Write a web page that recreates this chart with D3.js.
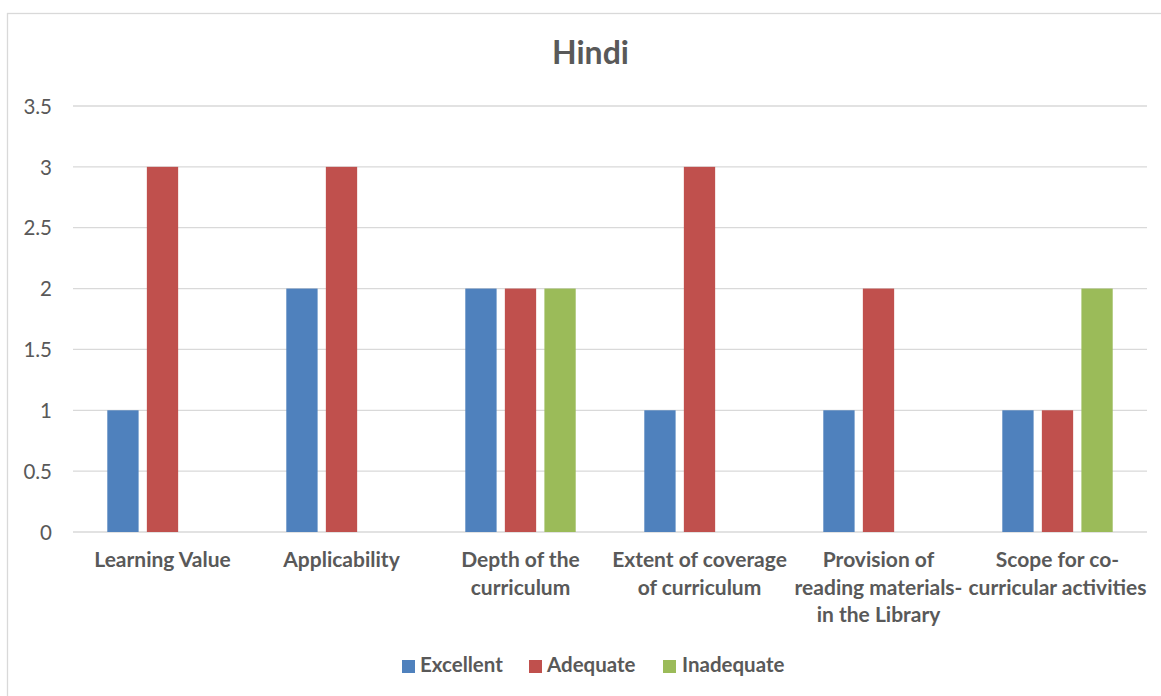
<!DOCTYPE html>
<html>
<head>
<meta charset="utf-8">
<script src="https://cdn.jsdelivr.net/npm/d3@7"></script>
<style>
  html, body { margin: 0; padding: 0; background: #fff; }
  svg { display: block; }
  text { font-family: Lato, "Open Sans", sans-serif; fill: #595959; }
</style>
</head>
<body>
<svg id="chart" width="1161" height="696"></svg>
<script>
// Survey ratings for the Hindi curriculum
const categories = [
  "Learning Value",
  "Applicability",
  "Depth of the curriculum",
  "Extent of coverage of curriculum",
  "Provision of reading materials- in the Library",
  "Scope for co-curricular activities"
];
// Wrapped axis labels, one array of lines per category
const categoryLines = [
  ["Learning Value"],
  ["Applicability"],
  ["Depth of the", "curriculum"],
  ["Extent of coverage", "of curriculum"],
  ["Provision of", "reading materials-", "in the Library"],
  ["Scope for co-", "curricular activities"]
];
const seriesNames = ["Excellent", "Adequate", "Inadequate"];
const excellent  = [1, 2, 2, 1, 1, 1];
const adequate   = [3, 3, 2, 3, 2, 1];
const inadequate = [0, 0, 2, 0, 0, 2];
const yTicks = [0, 0.5, 1, 1.5, 2, 2.5, 3, 3.5];
const colors = ["#4F81BD", "#C0504D", "#9BBB59"];

const seriesValues = [excellent, adequate, inadequate];

const svg = d3.select("#chart");

// Chart frame
svg.append("rect")
  .attr("x", 7.5).attr("y", 13.5)
  .attr("width", 1170).attr("height", 700)
  .attr("fill", "#fff")
  .attr("stroke", "#D9D9D9").attr("stroke-width", 1.3);

const plot = { left: 73, right: 1147, top: 106, bottom: 532 };

const x0 = d3.scaleBand().domain(categories).range([plot.left, plot.right]).padding(0);
const groupWidth = 110.4;
const x1 = d3.scaleBand().domain(seriesNames)
  .range([-groupWidth / 2, groupWidth / 2]).paddingInner(0.2086).paddingOuter(0);
const y = d3.scaleLinear().domain([0, 3.5]).range([plot.bottom, plot.top]);

// Horizontal gridlines
svg.append("g")
  .selectAll("line")
  .data(yTicks)
  .join("line")
  .attr("x1", plot.left).attr("x2", plot.right)
  .attr("y1", d => y(d)).attr("y2", d => y(d))
  .attr("stroke", "#D9D9D9").attr("stroke-width", 1.3);

// Y axis labels
const yAxis = d3.axisLeft(y).tickValues(yTicks).tickSize(0).tickPadding(0)
  .tickFormat(d3.format("~g"));
const yg = svg.append("g").attr("transform", `translate(52,0)`).call(yAxis);
yg.select(".domain").remove();
yg.selectAll("text")
  .attr("font-size", 20.5)
  .attr("font-family", "Lato, sans-serif")
  .attr("fill", "#595959")
  .attr("dy", "0.35em");

// Bars
const rows = categories.map((c, i) => ({
  category: c,
  values: seriesNames.map((s, k) => ({ series: s, value: seriesValues[k][i], color: colors[k] }))
}));

svg.append("g")
  .selectAll("g")
  .data(rows)
  .join("g")
  .attr("transform", d => `translate(${x0(d.category) + x0.bandwidth() / 2},0)`)
  .selectAll("rect")
  .data(d => d.values.filter(v => v.value > 0))
  .join("rect")
  .attr("x", d => x1(d.series))
  .attr("width", x1.bandwidth())
  .attr("y", d => y(d.value))
  .attr("height", d => y(0) - y(d.value))
  .attr("fill", d => d.color);

// Category labels
const labels = svg.append("g");
categories.forEach((c, i) => {
  const cx = x0(c) + x0.bandwidth() / 2;
  const t = labels.append("text")
    .attr("text-anchor", "middle")
    .attr("font-size", 21)
    .attr("font-weight", "bold")
    .attr("x", cx)
    .attr("y", 567);
  categoryLines[i].forEach((line, j) => {
    t.append("tspan")
      .attr("x", cx)
      .attr("y", 567 + j * 27.5)
      .text(line);
  });
});

// Title
svg.append("text")
  .attr("x", 590.5).attr("y", 64)
  .attr("text-anchor", "middle")
  .attr("font-size", 32)
  .attr("font-weight", "bold")
  .text("Hindi");

// Legend
const legendItems = [
  { name: seriesNames[0], color: colors[0], sx: 402, tx: 420 },
  { name: seriesNames[1], color: colors[1], sx: 529, tx: 547 },
  { name: seriesNames[2], color: colors[2], sx: 663, tx: 682 }
];
const legend = svg.append("g");
legend.selectAll("rect")
  .data(legendItems)
  .join("rect")
  .attr("x", d => d.sx).attr("y", 660)
  .attr("width", 13).attr("height", 13)
  .attr("fill", d => d.color);
legend.selectAll("text")
  .data(legendItems)
  .join("text")
  .attr("x", d => d.tx).attr("y", 672)
  .attr("font-size", 20.5)
  .attr("font-weight", "bold")
  .text(d => d.name);
</script>
</body>
</html>
